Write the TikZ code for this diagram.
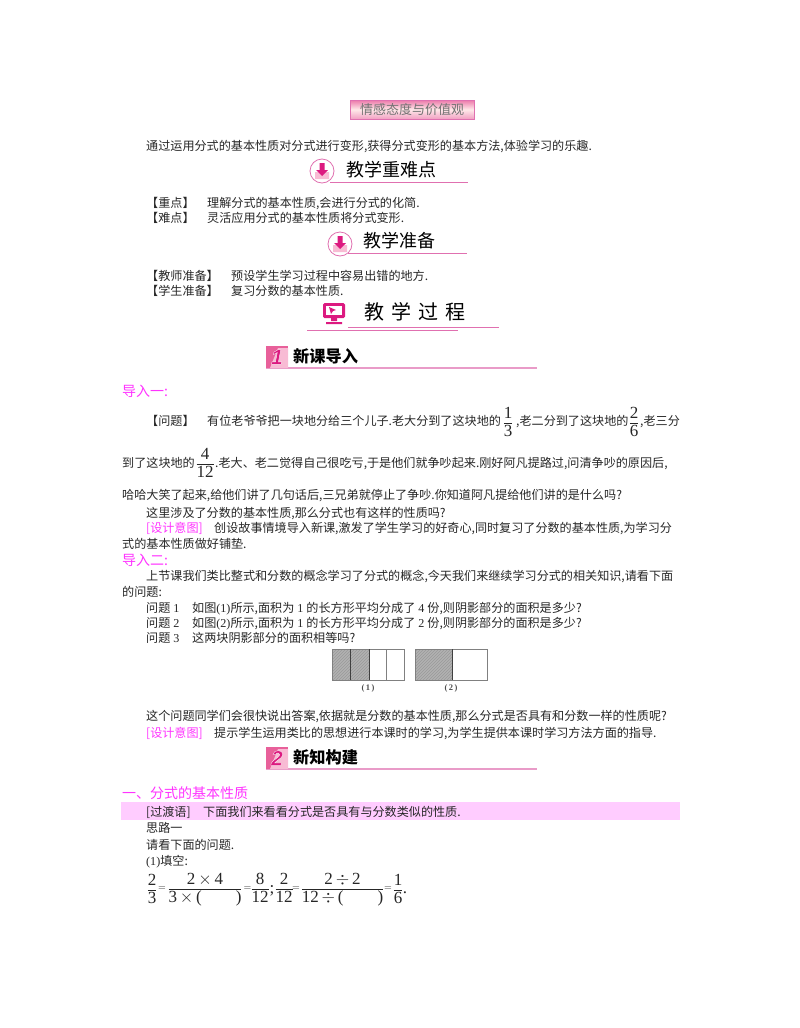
\documentclass[tikz,border=0pt]{standalone}
\usepackage{amsmath}
\usepackage{amssymb}
\usepackage{fontspec}
\setmainfont{Liberation Serif}
\newfontfamily\cjk{Noto Sans CJK SC}
\newfontfamily\numfont{Liberation Sans}
\usetikzlibrary{patterns}
\definecolor{hotpink}{HTML}{FF33FF}
\definecolor{rulepink}{HTML}{E070B0}
\definecolor{iconpink}{HTML}{DC1A80}
\definecolor{boxpink}{HTML}{E8609A}
\definecolor{palepink}{HTML}{F8BBD4}
\newcommand{\lat}[1]{{\rmfamily #1}}
\newcommand{\fr}[2]{\dfrac{\raisebox{-2.5pt}[\height][0pt]{#1}}{\raisebox{2.5pt}[\height][0pt]{#2}}}
\newcommand{\dlicon}[2]{%
  \draw[rulepink,fill=white,line width=0.8pt] (#1,#2) circle (12);
  \fill[palepink] (#1-7,#2+1) -- (#1-3,#2+1) -- (#1,#2+4) -- (#1+3,#2+1) -- (#1+7,#2+1) -- (#1+7,#2+8) -- (#1-7,#2+8) -- cycle;
  \fill[iconpink] (#1-2.5,#2-8) rectangle (#1+2.5,#2-1) (#1-6,#2-1) -- (#1+6,#2-1) -- (#1,#2+5) -- cycle;
}
\newcommand{\numbox}[3]{%
  \fill[boxpink] (#1,#2) rectangle (#1+22,#2+22);
  \fill[palepink] (#1+22,#2+2) -- (#1+22,#2+22) -- (#1+4,#2+22) -- (#1+12,#2+2) -- cycle;
  \node[inner sep=0pt,text=iconpink,font=\numfont\bfseries\itshape\fontsize{21}{21}\selectfont] at (#1+11,#2+11) {\special{pdf:code q 2 Tr 0.3 w 1 1 1 RG}#3\special{pdf:code Q}};
}
\tikzset{
  body/.style={anchor=base west,inner sep=0pt,font=\cjk\fontsize{12.1}{14}\selectfont,text=black!85},
  note/.style={body,text=hotpink},
  sect/.style={anchor=base west,inner sep=0pt,font=\cjk\fontsize{14}{16}\selectfont,text=hotpink},
  head/.style={anchor=base west,inner sep=0pt,font=\cjk\fontsize{18}{20}\selectfont},
  sub/.style={anchor=base west,inner sep=0pt,font=\cjk\bfseries\fontsize{16.2}{18}\selectfont},
  frc/.style={inner sep=0pt,font=\fontsize{17}{20}\selectfont,text=black!85},
  eqs/.style={inner sep=0pt,font=\fontsize{10}{12}\selectfont,text=black!85},
  rulel/.style={draw=rulepink,line width=0.9pt},
  part/.style={draw=black!50,line width=1pt},
  shade/.style={pattern=north east lines,pattern color=black!40},
}
\begin{document}
\begin{tikzpicture}[x=1pt,y=-1pt]
  \useasboundingbox (0,0) rectangle (800,1028);
  % badge
  \node[draw=rulepink,line width=1pt,top color=boxpink!85,bottom color=boxpink!60,middle color=pink!35,minimum width=124,minimum height=19,inner sep=0pt,text=black!55,font=\cjk\fontsize{13}{15}\selectfont] (badge) at (412,109.5) {情感态度与价值观};
  \node[body] (goal) at (146,150) {通过运用分式的基本性质对分式进行变形,获得分式变形的基本方法,体验学习的乐趣.};

  % key points
  \draw[rulel] (330,182) -- (468,182);
  \dlicon{322}{171}
  \node[head] (key) at (346,176) {教学重难点};
  \node[body] (k1) at (146,207) {【重点】};
  \node[body] (k1t) at (207,207) {理解分式的基本性质,会进行分式的化简.};
  \node[body] (k2) at (146,222) {【难点】};
  \node[body] (k2t) at (207,222) {灵活应用分式的基本性质将分式变形.};

  % preparation
  \draw[rulel] (348,253) -- (467,253);
  \dlicon{340}{244}
  \node[head] (prep) at (363,247) {教学准备};
  \node[body] (p1) at (146,280) {【教师准备】};
  \node[body] (p1t) at (231,280) {预设学生学习过程中容易出错的地方.};
  \node[body] (p2) at (146,295) {【学生准备】};
  \node[body] (p2t) at (231,295) {复习分数的基本性质.};

  % process
  \fill[iconpink,rounded corners=1.5pt] (323,303) rectangle (345,318);
  \fill[white] (326,306) rectangle (342,315);
  \fill[iconpink] (329,307) -- (336,310) -- (333,311) -- (331,314) -- cycle;
  \fill[iconpink] (331,318) rectangle (337,321) (326,322) rectangle (342,324);
  \node[head,font=\cjk\fontsize{20}{22}\selectfont] (proc) at (364,319) {教\hspace{7pt}学\hspace{7pt}过\hspace{7pt}程};
  \draw[rulel] (348,327) -- (499,327);
  \draw[rulel] (307,330) -- (458,330);

  % part 1
  \draw[draw=rulepink!70,line width=1.1pt] (266,368) -- (537,368);
  \numbox{266}{346}{1}
  \node[sub] (new1) at (293,362.5) {新课导入};
  \node[sect] (in1) at (122,396) {导入一:};
  \node[body] (q) at (146,425) {【问题】};
  \node[body] (q1) at (207,425) {有位老爷爷把一块地分给三个儿子.老大分到了这块地的};
  \node[frc] (f1) at (508,422) {$\fr{1}{3}$};
  \node[body] (q2) at (516,425) {,老二分到了这块地的};
  \node[frc] (f2) at (634,422) {$\fr{2}{6}$};
  \node[body] (q3) at (640,425) {,老三分};
  \node[body] (q4) at (122,467) {到了这块地的};
  \node[frc] (f3) at (205,464) {$\fr{4}{12}$};
  \node[body] (q5) at (215,467) {.老大、老二觉得自己很吃亏,于是他们就争吵起来.刚好阿凡提路过,问清争吵的原因后,};
  \node[body] (q6) at (122,499) {哈哈大笑了起来,给他们讲了几句话后,三兄弟就停止了争吵.你知道阿凡提给他们讲的是什么吗?};
  \node[body] (q7) at (146,517) {这里涉及了分数的基本性质,那么分式也有这样的性质吗?};
  \node[note] (d1) at (146,532) {[设计意图]};
  \node[body] (d1t) at (214,532) {创设故事情境导入新课,激发了学生学习的好奇心,同时复习了分数的基本性质,为学习分};
  \node[body] (d1u) at (122,548) {式的基本性质做好铺垫.};
  \node[sect] (in2) at (122,565) {导入二:};
  \node[body] (l1) at (146,580) {上节课我们类比整式和分数的概念学习了分式的概念,今天我们来继续学习分式的相关知识,请看下面};
  \node[body] (l2) at (122,596) {的问题:};
  \node[body] (l3) at (146,612) {问题\lat{ 1}};
  \node[body] (l3t) at (192,612) {如图\lat{(1)}所示,面积为\lat{ 1 }的长方形平均分成了\lat{ 4 }份,则阴影部分的面积是多少?};
  \node[body] (l4) at (146,627) {问题\lat{ 2}};
  \node[body] (l4t) at (192,627) {如图\lat{(2)}所示,面积为\lat{ 1 }的长方形平均分成了\lat{ 2 }份,则阴影部分的面积是多少?};
  \node[body] (l5) at (146,642) {问题\lat{ 3}};
  \node[body] (l5t) at (192,642) {这两块阴影部分的面积相等吗?};

  % rectangles
  \fill[black!30] (332,649) rectangle (369,680);
  \fill[shade] (332,649) rectangle (369,680);
  \draw[part] (332,649) rectangle (404,680);
  \draw[black!75,line width=0.9pt] (350,649) -- (350,680) (369,649) -- (369,680);
  \draw[part] (386,649) -- (386,680);
  \fill[black!30] (415,649) rectangle (452,680);
  \fill[shade] (415,649) rectangle (452,680);
  \draw[part] (415,649) rectangle (487,680);
  \draw[black!75,line width=0.9pt] (452,649) -- (452,680);
  \node[inner sep=0pt,font=\bfseries\fontsize{8.5}{9}\selectfont,text=black!70] (c1) at (368,688) {(\,1\,)};
  \node[inner sep=0pt,font=\bfseries\fontsize{8.5}{9}\selectfont,text=black!70] (c2) at (451,688) {(\,2\,)};

  \node[body] (a1) at (146,720) {这个问题同学们会很快说出答案,依据就是分数的基本性质,那么分式是否具有和分数一样的性质呢?};
  \node[note] (d2) at (146,737) {[设计意图]};
  \node[body] (d2t) at (214,737) {提示学生运用类比的思想进行本课时的学习,为学生提供本课时学习方法方面的指导.};

  % part 2
  \draw[draw=rulepink!70,line width=1.1pt] (266,769) -- (537,769);
  \numbox{266}{747}{2}
  \node[sub] (new2) at (293,763.5) {新知构建};
  \node[sect] (one) at (122,798) {一、分式的基本性质};
  \fill[hotpink!25] (121,802) rectangle (680,820);
  \node[body] (t) at (146,816) {[过渡语]};
  \node[body] (tt) at (203,816) {下面我们来看看分式是否具有与分数类似的性质.};
  \node[body] (s1) at (146,832) {思路一};
  \node[body] (s2) at (146,849) {请看下面的问题.};
  \node[body] (s3) at (146,865) {\lat{(1)}填空:};

  % equation
  \node[frc] (e1) at (152,889) {$\fr{2}{3}$};
  \node[eqs] (e2) at (162,889) {$=$};
  \node[frc] (e3) at (205,889) {$\fr{2\,$\times$\,4}{3\,$\times$\,(\hspace{34pt})}$};
  \node[eqs] (e4) at (247.5,889) {$=$};
  \node[frc] (e5) at (260,889) {$\fr{8}{12}$};
  \node[frc,anchor=base] (e6) at (272,893) {;};
  \node[frc] (e7) at (284,889) {$\fr{2}{12}$};
  \node[eqs] (e8) at (296,889) {$=$};
  \node[frc] (e9) at (342.5,889) {$\fr{2\,$\div$\,2}{12\,$\div$\,(\hspace{34pt})}$};
  \node[eqs] (e10) at (388,889) {$=$};
  \node[frc] (e11) at (398,889) {$\fr{1}{6}$};
  \node[frc,anchor=base] (e12) at (405,893) {.};
\end{tikzpicture}
\end{document}
